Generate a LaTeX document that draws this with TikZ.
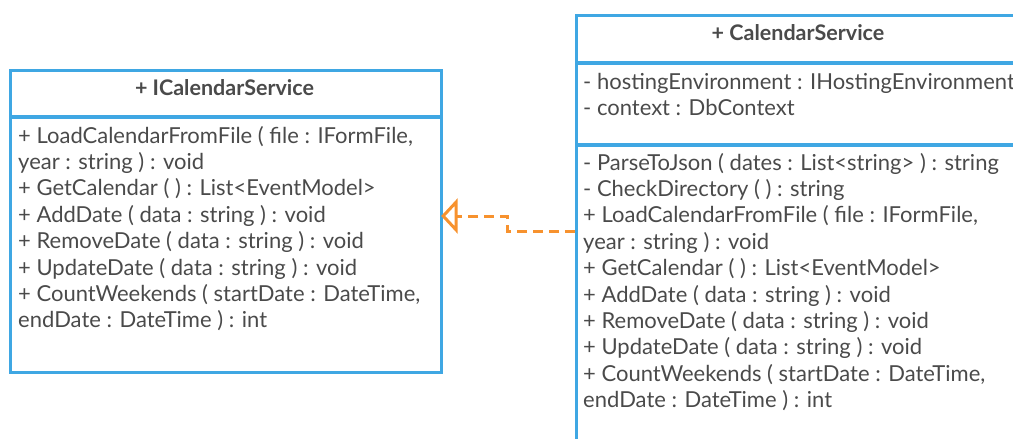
\documentclass[tikz,border=0pt]{standalone}
\usepackage{fontspec}
\setmainfont{Lato}
\usetikzlibrary{calc}
\definecolor{umlblue}{HTML}{3FA7E3}
\definecolor{umlorange}{HTML}{F7922E}
\definecolor{umltext}{HTML}{4A4A4A}
\tikzset{
  classbox/.style={draw=umlblue, line width=3.2pt, fill=none, rectangle, inner sep=0pt},
  sepline/.style={draw=umlblue, line width=3.2pt},
  member/.style={anchor=base west, inner sep=0pt, text=umltext, font=\fontsize{22}{26}\selectfont},
  title/.style={anchor=base, inner sep=0pt, text=umltext, font=\fontsize{21.5}{24}\selectfont\bfseries},
  realize/.style={draw=umlorange, line width=3pt, dash pattern=on 10pt off 6pt},
  hollowtip/.style={draw=umlorange, line width=3pt, fill=white, line join=miter}
}
\begin{document}
\begin{tikzpicture}[x=1pt, y=-1pt]
\useasboundingbox (0,0) rectangle (1013,439);
\clip (0,0) rectangle (1013,439);

% interface box
\node[classbox, minimum width=431pt, minimum height=302pt, anchor=north west] (ics) at (9,69) {};
\draw[sepline] (9,117) -- (440,117);
\node[title] (icsname) at (224.5,95) {+ ICalendarService};
\node[member] (i1) at (18,143) {+ LoadCalendarFromFile ( file : IFormFile,};
\node[member] (i2) at (18,169.4) {year : string ) : void};
\node[member] (i3) at (18,195.8) {+ GetCalendar ( ) : List<EventModel>};
\node[member] (i4) at (18,222.2) {+ AddDate ( data : string ) : void};
\node[member] (i5) at (18,248.6) {+ RemoveDate ( data : string ) : void};
\node[member] (i6) at (18,275) {+ UpdateDate ( data : string ) : void};
\node[member] (i7) at (18,301.4) {+ CountWeekends ( startDate : DateTime,};
\node[member] (i8) at (18,327.8) {endDate : DateTime ) : int};

% implementing class box (runs past the page edge)
\node[classbox, minimum width=470pt, minimum height=470pt, anchor=north west] (cs) at (575,14) {};
\draw[sepline] (575,63) -- (1045,63);
\draw[sepline] (575,145) -- (1045,145);
\node[title] (csname) at (798,40) {+ CalendarService};
\node[member] (a1) at (583,89) {- hostingEnvironment : IHostingEnvironment};
\node[member] (a2) at (583,115.4) {- context : DbContext};
\node[member] (m1) at (583,170) {- ParseToJson ( dates : List<string> ) : string};
\node[member] (m2) at (583,196.4) {- CheckDirectory ( ) : string};
\node[member] (m3) at (583,222.8) {+ LoadCalendarFromFile ( file : IFormFile,};
\node[member] (m4) at (583,249.2) {year : string ) : void};
\node[member] (m5) at (583,275.6) {+ GetCalendar ( ) : List<EventModel>};
\node[member] (m6) at (583,302) {+ AddDate ( data : string ) : void};
\node[member] (m7) at (583,328.4) {+ RemoveDate ( data : string ) : void};
\node[member] (m8) at (583,354.8) {+ UpdateDate ( data : string ) : void};
\node[member] (m9) at (583,381.2) {+ CountWeekends ( startDate : DateTime,};
\node[member] (m10) at (583,407.6) {endDate : DateTime ) : int};

% realization: dashed path with a hollow triangle at the interface
\coordinate (bend) at (507,0);
\coordinate (tipback) at ($(ics.east |- 0,216) + (13,0)$);
\draw[realize] (cs.west |- 0,231) -- (bend |- 0,231) -- (bend |- 0,216) -- (tipback);
\draw[hollowtip] (ics.east |- 0,216) -- ($(tipback) + (0,-14)$) -- ($(tipback) + (0,14)$) -- cycle;
\end{tikzpicture}
\end{document}
